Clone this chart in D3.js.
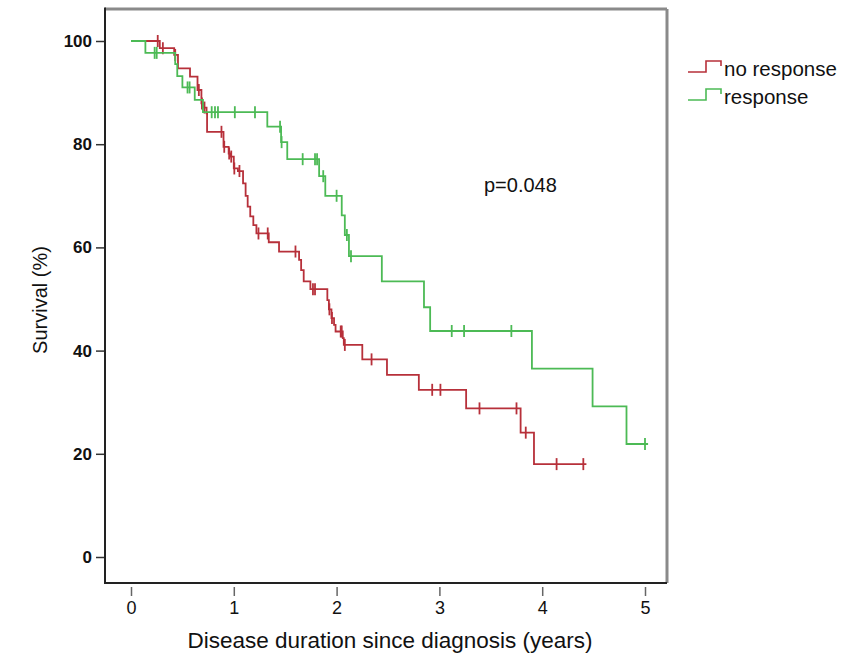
<!DOCTYPE html>
<html>
<head>
<meta charset="utf-8">
<script src="https://cdn.jsdelivr.net/npm/d3@7"></script>
<style>
  body { margin: 0; background: #fff; }
  svg text { font-family: "Liberation Sans", Arial, sans-serif; fill: #111; }
</style>
</head>
<body>
<div id="chart"></div>
<script>
// no response group: times of each drop and survival (%) after the drop
var noRespTimes = [0, 0.28, 0.42, 0.457, 0.574, 0.647, 0.685, 0.71, 0.735, 0.74, 0.90, 0.95, 0.97, 1.0, 1.04, 1.09, 1.115, 1.135, 1.16, 1.19, 1.22, 1.34, 1.44, 1.635, 1.655, 1.68, 1.745, 1.91, 1.925, 1.95, 1.975, 1.99, 2.06, 2.07, 2.25, 2.49, 2.80, 3.26, 3.79, 3.92];
var noRespSurv  = [100, 98.6, 97.3, 94.7, 93.1, 90.5, 87.9, 87.1, 86.0, 82.4, 79.5, 78.2, 77.6, 75.3, 74.8, 72.4, 70.0, 67.9, 66.0, 64.3, 62.7, 61.0, 59.2, 57.6, 55.6, 53.4, 51.9, 49.8, 48.0, 46.3, 45.0, 43.7, 42.4, 41.1, 38.3, 35.3, 32.4, 28.8, 24.1, 18.0];
var noRespCensor = [0.26, 0.31, 0.43, 0.66, 0.69, 0.715, 0.88, 0.907, 0.955, 0.975, 1.005, 1.055, 1.24, 1.33, 1.60, 1.77, 1.79, 1.93, 1.955, 2.04, 2.05, 2.08, 2.34, 2.93, 3.01, 3.39, 3.75, 3.84, 4.14, 4.40];
var noRespEnd = 4.43;

// response group
var respTimes = [0, 0.14, 0.43, 0.45, 0.50, 0.62, 0.70, 1.326, 1.46, 1.52, 1.83, 1.89, 2.05, 2.08, 2.12, 2.44, 2.85, 2.91, 3.90, 4.49, 4.82];
var respSurv  = [100, 97.7, 95.5, 93.2, 91.0, 88.6, 86.2, 83.4, 80.4, 77.1, 73.8, 70.0, 66.2, 62.4, 58.3, 53.4, 48.4, 43.8, 36.5, 29.2, 21.9];
var respCensor = [0.23, 0.25, 0.55, 0.57, 0.785, 0.817, 0.846, 1.01, 1.206, 1.45, 1.465, 1.67, 1.79, 1.81, 1.87, 2.0, 2.10, 2.14, 3.12, 3.24, 3.70, 5.0];
var respEnd = 5.03;

var xTicks = [0, 1, 2, 3, 4, 5];
var yTicks = [0, 20, 40, 60, 80, 100];

var groups = [
    { name: 'no response', color: '#b7303a', times: noRespTimes, surv: noRespSurv, censor: noRespCensor, end: noRespEnd },
    { name: 'response', color: '#4cba55', times: respTimes, surv: respSurv, censor: respCensor, end: respEnd }
];

var width = 854, height = 659;
var frame = { left: 105, right: 667, top: 9, bottom: 583 };

var x = d3.scaleLinear().domain([0, 5]).range([131, 645]);
var y = d3.scaleLinear().domain([0, 100]).range([557, 41]);

var svg = d3.select('#chart')
    .append('svg')
    .attr('width', width)
    .attr('height', height);

// FRAME
svg.append('line')
    .attr('x1', frame.left).attr('x2', frame.right)
    .attr('y1', frame.top).attr('y2', frame.top)
    .attr('stroke', '#8a8a8a').attr('stroke-width', 3);
svg.append('line')
    .attr('x1', frame.right).attr('x2', frame.right)
    .attr('y1', frame.top).attr('y2', frame.bottom)
    .attr('stroke', '#8a8a8a').attr('stroke-width', 3);
svg.append('line')
    .attr('x1', frame.left).attr('x2', frame.left)
    .attr('y1', frame.top - 1.5).attr('y2', frame.bottom + 1)
    .attr('stroke', '#222').attr('stroke-width', 2);
svg.append('line')
    .attr('x1', frame.left).attr('x2', frame.right)
    .attr('y1', frame.bottom).attr('y2', frame.bottom)
    .attr('stroke', '#222').attr('stroke-width', 2);

// Y AXIS
var yAxis = svg.append('g')
    .attr('transform', 'translate(' + (frame.left - 1) + ',0)')
    .call(d3.axisLeft(y).tickValues(yTicks).tickSize(8).tickPadding(4));
yAxis.select('.domain').remove();
yAxis.selectAll('line').attr('stroke', '#333').attr('stroke-width', 1.5);
yAxis.selectAll('text')
    .attr('font-size', 17)
    .attr('font-weight', 'bold')
    .attr('fill', '#111');

// X AXIS
var xAxis = svg.append('g')
    .attr('transform', 'translate(0,' + (frame.bottom + 4) + ')')
    .call(d3.axisBottom(x).tickValues(xTicks).tickFormat(d3.format('d')).tickSize(9).tickPadding(5));
xAxis.select('.domain').remove();
xAxis.selectAll('line').attr('stroke', '#666').attr('stroke-width', 1.5);
xAxis.selectAll('text')
    .attr('font-size', 18)
    .attr('fill', '#111');

// AXIS TITLES
svg.append('text')
    .attr('x', 390).attr('y', 648)
    .attr('text-anchor', 'middle')
    .attr('font-size', 22.5)
    .text('Disease duration since diagnosis (years)');
svg.append('text')
    .attr('transform', 'translate(47,300) rotate(-90)')
    .attr('text-anchor', 'middle')
    .attr('font-size', 20)
    .text('Survival (%)');

// P VALUE
svg.append('text')
    .attr('x', 484).attr('y', 192)
    .attr('font-size', 20)
    .text('p=0.048');

// step value at time t
var survAt = function(g, t) {
    var s = g.surv[0];
    for (var i = 0; i < g.times.length; i++) {
        if (g.times[i] <= t) { s = g.surv[i]; }
    }
    return s;
};

var line = d3.line()
    .x(function(d) { return x(d[0]); })
    .y(function(d) { return y(d[1]); })
    .curve(d3.curveStepAfter);

// CURVES
groups.forEach(function(g) {
    var pts = g.times.map(function(t, i) { return [t, g.surv[i]]; });
    pts.push([g.end, g.surv[g.surv.length - 1]]);

    svg.append('path')
        .datum(pts)
        .attr('d', line)
        .attr('fill', 'none')
        .attr('stroke', g.color)
        .attr('stroke-width', 1.8);

    svg.append('g')
        .selectAll('line').data(g.censor).enter()
        .append('line')
        .attr('x1', function(d) { return x(d); })
        .attr('x2', function(d) { return x(d); })
        .attr('y1', function(d) { return y(survAt(g, d)) - 6; })
        .attr('y2', function(d) { return y(survAt(g, d)) + 6; })
        .attr('stroke', g.color)
        .attr('stroke-width', 1.8);
});

// LEGEND
var legend = svg.append('g').attr('transform', 'translate(688,0)');
groups.forEach(function(g, i) {
    var ly = 72 + i * 28;
    legend.append('path')
        .attr('d', 'M0,' + ly + 'H18V' + (ly - 11) + 'H33V' + (ly - 6))
        .attr('fill', 'none')
        .attr('stroke', g.color)
        .attr('stroke-width', 1.6);
    legend.append('text')
        .attr('x', 36).attr('y', ly + 4)
        .attr('font-size', 20.5)
        .text(g.name);
});
</script>
</body>
</html>
